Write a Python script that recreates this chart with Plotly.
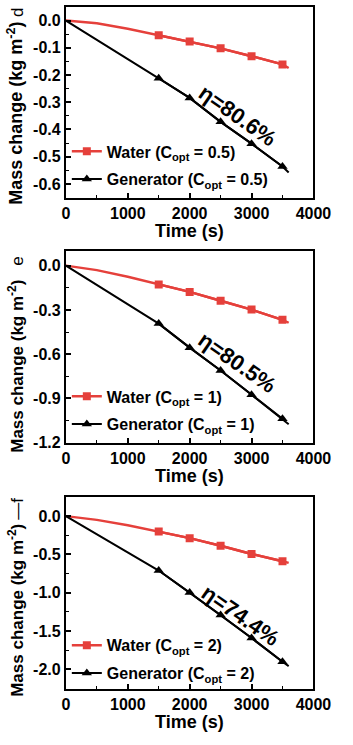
import plotly.graph_objects as go

# ---- data ----
time_full = [0, 500, 1000, 1500, 2000, 2500, 3000, 3500, 3600]
time_marks = [1500, 2000, 2500, 3000, 3500]

water_d = [0, -0.010, -0.030, -0.054, -0.077, -0.102, -0.131, -0.161, -0.174]
gen_d = [0, -0.072, -0.142, -0.212, -0.284, -0.372, -0.452, -0.536, -0.558]

water_e = [0, -0.030, -0.075, -0.127, -0.178, -0.238, -0.298, -0.367, -0.387]
gen_e = [0, -0.130, -0.262, -0.393, -0.556, -0.711, -0.876, -1.038, -1.076]

water_f = [0, -0.050, -0.120, -0.202, -0.288, -0.387, -0.495, -0.589, -0.611]
gen_f = [0, -0.235, -0.470, -0.710, -0.998, -1.290, -1.590, -1.900, -1.957]

x_ticks = [0, 1000, 2000, 3000, 4000]
x_ticktext = ["0", "1000", "2000", "3000", "4000"]
y_ticks_d = [0.0, -0.1, -0.2, -0.3, -0.4, -0.5, -0.6]
y_ticktext_d = ["0.0", "-0.1", "-0.2", "-0.3", "-0.4", "-0.5", "-0.6"]
y_ticks_e = [0.0, -0.3, -0.6, -0.9, -1.2]
y_ticktext_e = ["0.0", "-0.3", "-0.6", "-0.9", "-1.2"]
y_ticks_f = [0.0, -0.5, -1.0, -1.5, -2.0]
y_ticktext_f = ["0.0", "-0.5", "-1.0", "-1.5", "-2.0"]

copt_labels = ["0.5", "1", "2"]
eta_labels = ["η=80.6%", "η=80.5%", "η=74.4%"]
panel_letters = ["d", "e", "—f"]
y_ranges = [[-0.65, 0.05], [-1.2, 0.1], [-2.25, 0.25]]
eta_pos = [(2770, -0.35), (2770, -0.655), (2820, -1.30)]

RED = "#e5403b"
BLACK = "#000000"
FONT = "Liberation Sans, Arial, sans-serif"

W, H = 353, 745
px_x = lambda p: p / W
px_y = lambda p: 1 - p / H

panels = [
    dict(top=7, bottom=200, water=water_d, gen=gen_d, leg_top=136,
         yt=y_ticks_d, ytt=y_ticktext_d, minor=0.05,
         ytitle_c=115, ytitle_size=18, letter_y=13),
    dict(top=254, bottom=448, water=water_e, gen=gen_e, leg_top=384,
         yt=y_ticks_e, ytt=y_ticktext_e, minor=0.15,
         ytitle_c=371, ytitle_size=17, letter_y=265),
    dict(top=503, bottom=697, water=water_f, gen=gen_f, leg_top=636,
         yt=y_ticks_f, ytt=y_ticktext_f, minor=0.25,
         ytitle_c=618, ytitle_size=17, letter_y=515),
]

fig = go.Figure()
annotations = []
layout = {}

for i, p in enumerate(panels):
    n = "" if i == 0 else str(i + 1)
    xa, ya = "x" + n, "y" + n
    leg = "legend" + n
    wm = [v for t, v in zip(time_full, p["water"]) if t in time_marks]
    gm = [v for t, v in zip(time_full, p["gen"]) if t in time_marks]
    # continuous lines
    fig.add_trace(go.Scatter(x=time_full, y=p["water"], mode="lines",
                             line=dict(color=RED, width=2.4), showlegend=False,
                             xaxis=xa, yaxis=ya))
    fig.add_trace(go.Scatter(x=time_full, y=p["gen"], mode="lines",
                             line=dict(color=BLACK, width=2), showlegend=False,
                             xaxis=xa, yaxis=ya))
    # marked points (legend entries)
    fig.add_trace(go.Scatter(x=time_marks, y=wm, mode="lines+markers",
                             line=dict(color=RED, width=2.4),
                             marker=dict(symbol="square", size=8, color=RED),
                             name=f"Water (C<sub>opt</sub> = {copt_labels[i]})",
                             legend=leg, legendgroup=f"w{i}",
                             xaxis=xa, yaxis=ya))
    fig.add_trace(go.Scatter(x=time_marks, y=gm, mode="lines+markers",
                             line=dict(color=BLACK, width=2),
                             marker=dict(symbol="triangle-up", size=9, color=BLACK),
                             name=f"Generator (C<sub>opt</sub> = {copt_labels[i]})",
                             legend=leg, legendgroup=f"g{i}",
                             xaxis=xa, yaxis=ya))

    axis_common = dict(showline=True, linecolor="black", linewidth=2, mirror=True,
                       ticks="inside", ticklen=5, tickwidth=1.5, tickcolor="black",
                       showgrid=False, zeroline=False,
                       tickfont=dict(family=FONT, size=16, color="black", weight="bold"))
    layout["xaxis" + n] = dict(axis_common, domain=[px_x(66), px_x(330)], range=[0, 4000],
                               tickmode="array", tickvals=x_ticks, ticktext=x_ticktext,
                               anchor=ya,
                               minor=dict(ticks="inside", ticklen=3, tick0=0, dtick=500,
                                          tickcolor="black", tickwidth=1.2))
    layout["yaxis" + n] = dict(axis_common, domain=[px_y(p["bottom"]), px_y(p["top"])],
                               range=y_ranges[i], tickmode="array", tickvals=p["yt"],
                               ticktext=p["ytt"], anchor=xa,
                               minor=dict(ticks="inside", ticklen=3, tick0=0, dtick=p["minor"],
                                          tickcolor="black", tickwidth=1.2))
    layout[leg] = dict(x=px_x(67), y=px_y(p["leg_top"]), xanchor="left", yanchor="top",
                       bgcolor="rgba(0,0,0,0)", itemwidth=30, tracegroupgap=4,
                       traceorder="grouped",
                       font=dict(family=FONT, size=16, color="black", weight="bold"))

    # x title
    annotations.append(dict(text="Time (s)", xref="paper", yref="paper",
                            x=px_x(198), y=px_y(p["bottom"] + 34),
                            xanchor="center", yanchor="middle", showarrow=False,
                            font=dict(family=FONT, size=18, color="black", weight="bold")))
    # y title
    annotations.append(dict(text="Mass change (kg m<sup>-2</sup>)", xref="paper", yref="paper",
                            x=px_x(12), y=px_y(p["ytitle_c"]), textangle=-90,
                            xanchor="center", yanchor="middle", showarrow=False,
                            font=dict(family=FONT, size=p["ytitle_size"], color="black",
                                      weight="bold")))
    # panel letter
    annotations.append(dict(text=panel_letters[i], xref="paper", yref="paper",
                            x=px_x(15), y=px_y(p["letter_y"]), textangle=-90,
                            xanchor="center", yanchor="middle", showarrow=False,
                            font=dict(family=FONT, size=17, color="black")))
    # efficiency label
    annotations.append(dict(text=eta_labels[i], xref=xa, yref=ya,
                            x=eta_pos[i][0], y=eta_pos[i][1], textangle=35,
                            xanchor="center", yanchor="middle", showarrow=False,
                            font=dict(family=FONT, size=22, color="black", weight="bold")))

fig.update_layout(width=W, height=H, margin=dict(l=0, r=0, t=0, b=0),
                  paper_bgcolor="white", plot_bgcolor="white",
                  annotations=annotations, **layout)

fig.write_html("out.html")
